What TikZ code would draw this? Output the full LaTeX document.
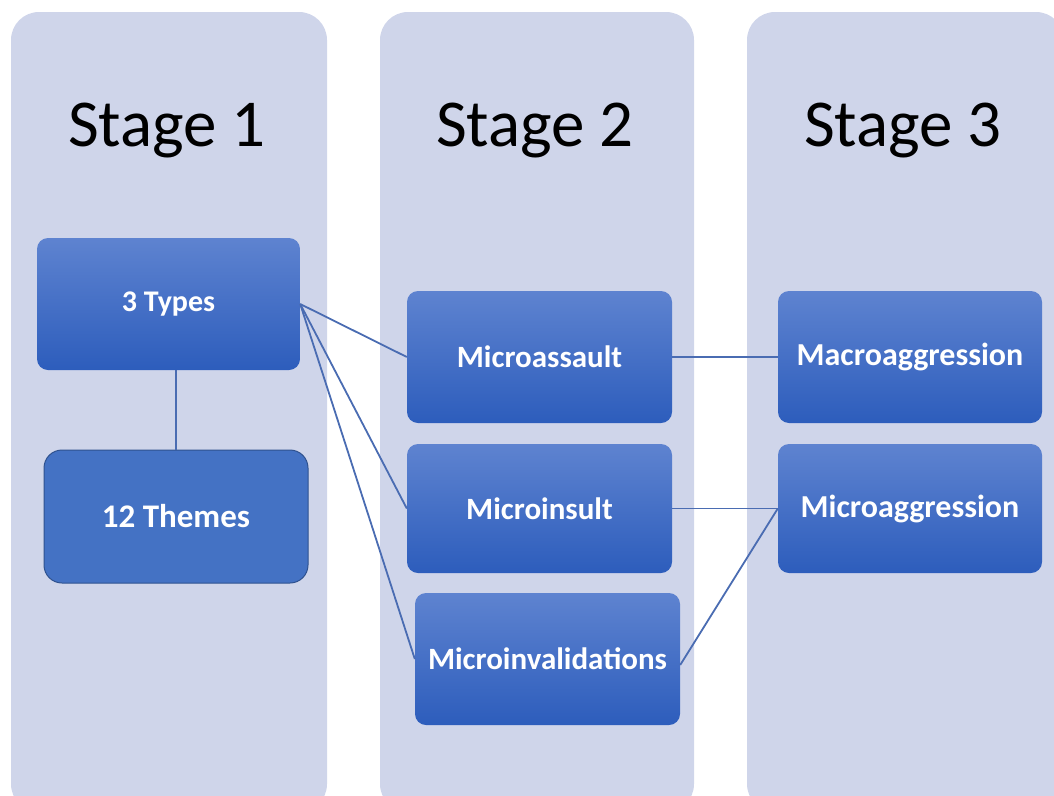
\documentclass[tikz,border=0pt]{standalone}
\usepackage{fontspec}
\setmainfont{Carlito}

\definecolor{lanefill}{RGB}{207,213,234}
\definecolor{boxtop}{RGB}{94,131,208}
\definecolor{boxbot}{RGB}{45,93,188}
\definecolor{boxsolid}{RGB}{68,114,196}
\definecolor{boxedge}{RGB}{47,82,143}
\definecolor{linkcol}{RGB}{74,108,178}

\tikzset{
  lane/.style={fill=lanefill, draw=none, rounded corners=28pt},
  stagetitle/.style={font=\fontsize{67}{70}\selectfont, text=black, anchor=center},
  gbox/.style={rectangle, draw=none, rounded corners=11pt, top color=boxtop, bottom color=boxbot,
               text=white, font=\fontsize{31}{35}\selectfont\bfseries, align=center,
               minimum width=265pt, minimum height=132pt, inner sep=0pt},
  sbox/.style={rectangle, draw=boxedge, line width=1pt, fill=boxsolid, rounded corners=18pt,
               text=white, font=\fontsize{33}{36}\selectfont\bfseries, align=center,
               minimum width=264pt, minimum height=133pt, inner sep=0pt},
  link/.style={draw=linkcol, line width=1.8pt}
}

\begin{document}
\begin{tikzpicture}[x=1pt, y=-1pt]
  \useasboundingbox (0,0) rectangle (1054,795);

  % three stage lanes
  \path[lane] (11,12) rectangle (327,812);
  \path[lane] (380,12) rectangle (694,812);
  \path[lane] (747,12) rectangle (1064,812);

  % lane titles
  \node[stagetitle] (t1) at (167,131) {Stage 1};
  \node[stagetitle] (t2) at (535,131) {Stage 2};
  \node[stagetitle] (t3) at (903,131) {Stage 3};

  % stage 1
  \node[gbox, minimum width=263pt, font=\fontsize{30}{34}\selectfont\bfseries] (types) at (168.5,304) {3 Types};
  \node[sbox] (themes) at (176,516.5) {12 Themes};

  % stage 2
  \node[gbox] (assault) at (539.5,357) {Microassault};
  \node[gbox, minimum height=129pt] (insult) at (539.5,508.5) {Microinsult};
  \node[gbox] (invalid) at (547.5,659) {Microinvalidations};

  % stage 3
  \node[gbox, minimum width=264pt, font=\fontsize{32}{35}\selectfont\bfseries] (macro) at (910,357) {Macroaggression};
  \node[gbox, minimum width=264pt, minimum height=129pt, font=\fontsize{32}{35}\selectfont\bfseries] (micro) at (910,508.5) {Microaggression};

  % connectors
  \draw[link] (types.south -| themes.north) -- (themes.north);
  \draw[link] (types.east) -- (assault.west);
  \draw[link] (types.east) -- (insult.west);
  \draw[link] (types.east) -- (invalid.west);
  \draw[link] (assault.east) -- (macro.west);
  \draw[link] (insult.east) -- (micro.west);
  \draw[link] ([yshift=-6pt]invalid.east) -- (micro.west);
\end{tikzpicture}
\end{document}
